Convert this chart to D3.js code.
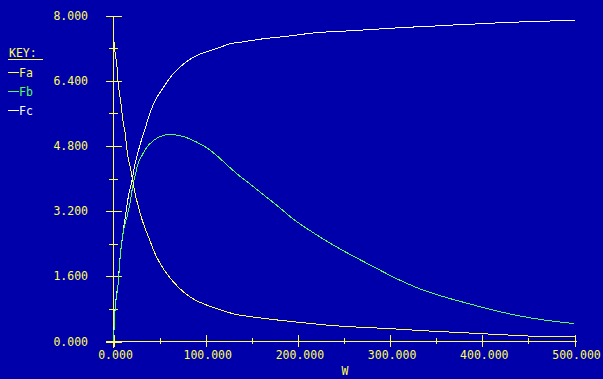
<!DOCTYPE html>
<html>
<head>
<meta charset="utf-8">
<script src="https://cdn.jsdelivr.net/npm/d3@7"></script>
<style>
  html, body { margin: 0; padding: 0; background: #0000aa; }
  svg { display: block; }
  text { font-family: "DejaVu Sans Mono", monospace; font-size: 11.5px; }
</style>
</head>
<body>
<svg id="chart" width="603" height="379"></svg>
<script>
// values
const wA = [0, 1.8, 3.7, 4.8, 6.5, 8.4, 10.2, 12.7, 15.2, 18.1, 20.6, 23.5, 27.1, 30.8, 34.4, 38.7, 45.2, 50.7, 57.9, 65.1, 74.2, 83.2, 94, 104.9, 115.7, 130, 151.8, 180.8, 206, 238.6, 267.6, 296.5, 340, 376, 401, 426.7, 455.5, 484.5, 500];
const fa = [7.5, 7.06, 6.77, 6.4, 6.08, 5.79, 5.42, 5.1, 4.6, 4.28, 3.99, 3.62, 3.3, 3.0, 2.77, 2.52, 2.15, 1.91, 1.66, 1.46, 1.25, 1.09, 0.96, 0.86, 0.78, 0.68, 0.6, 0.52, 0.46, 0.39, 0.35, 0.32, 0.26, 0.22, 0.19, 0.16, 0.13, 0.12, 0.12];

const wB = [0, 1.8, 3.7, 5.4, 7.3, 10.8, 14.5, 18.1, 21, 23.5, 26, 30.8, 36.2, 43.4, 50.7, 61.5, 70.5, 79.6, 90.5, 101.3, 112.1, 126.6, 137.4, 148.3, 162.7, 177.2, 195.2, 213.3, 231.4, 253, 274.8, 311, 332.6, 357.9, 383.3, 412, 437.5, 466.4, 500];
const fb = [0, 0.8, 1.18, 1.5, 2.1, 2.72, 3.05, 3.42, 3.83, 4.07, 4.32, 4.56, 4.77, 4.93, 5.03, 5.08, 5.06, 5.0, 4.89, 4.75, 4.56, 4.26, 4.05, 3.86, 3.6, 3.34, 3.0, 2.72, 2.46, 2.18, 1.92, 1.5, 1.29, 1.1, 0.94, 0.77, 0.64, 0.53, 0.44];

const wC = [0, 0.8, 1.8, 3.7, 5.4, 6.5, 8, 10.2, 12.7, 16.3, 20, 23.5, 27.1, 30.8, 34.4, 36.9, 43.4, 54.2, 63.3, 75.9, 90.5, 104.9, 115.7, 126.6, 136.3, 162.7, 188, 220.6, 253, 289, 318, 347, 379.6, 401, 426.7, 455.5, 484.5, 500];
const fc = [0, 0.52, 0.84, 1.21, 1.5, 1.92, 2.23, 2.65, 3.05, 3.58, 3.95, 4.37, 4.69, 4.98, 5.23, 5.42, 5.83, 6.24, 6.53, 6.81, 7.02, 7.14, 7.22, 7.31, 7.34, 7.43, 7.49, 7.58, 7.62, 7.67, 7.71, 7.74, 7.78, 7.8, 7.83, 7.85, 7.87, 7.87];

const xTicks = [0, 100, 200, 300, 400, 500];
const xMinor = [50, 150, 250, 350, 450];
const yTicks = [0, 1.6, 3.2, 4.8, 6.4, 8.0];
const yMinor = [0.8, 2.4, 4.0, 5.6, 7.2];
const keyNames = ["Fa", "Fb", "Fc"];

const YELLOW = "#ffff55", GREEN = "#55ff55", WHITE = "#ffffff";
const keyColors = [YELLOW, GREEN, WHITE];

const svg = d3.select("#chart");

const x = d3.scaleLinear().domain([0, 500]).range([113.5, 574.5]);
const y = d3.scaleLinear().domain([0, 8]).range([341.5, 15.5]);

const g = svg.append("g").attr("shape-rendering", "crispEdges");

// y axis
g.append("line")
    .attr("x1", x(0)).attr("x2", x(0))
    .attr("y1", y(8)).attr("y2", 347.5)
    .attr("stroke", YELLOW);

g.selectAll(".ymaj").data(yTicks).enter().append("line")
    .attr("x1", 106).attr("x2", 122)
    .attr("y1", d => Math.round(y(d)) + 0.5).attr("y2", d => Math.round(y(d)) + 0.5)
    .attr("stroke", YELLOW);
g.selectAll(".ymin").data(yMinor).enter().append("line")
    .attr("x1", 109).attr("x2", 118)
    .attr("y1", d => Math.round(y(d)) + 0.5).attr("y2", d => Math.round(y(d)) + 0.5)
    .attr("stroke", YELLOW);

svg.selectAll(".ylab").data(yTicks).enter().append("text")
    .attr("x", 88).attr("y", d => y(d) + 4)
    .attr("text-anchor", "end")
    .attr("fill", YELLOW)
    .text(d => d.toFixed(3));

// x axis
g.append("line")
    .attr("x1", 106).attr("x2", 577)
    .attr("y1", y(0)).attr("y2", y(0))
    .attr("stroke", YELLOW);

g.selectAll(".xmaj").data(xTicks).enter().append("line")
    .attr("x1", d => Math.round(x(d)) + 0.5).attr("x2", d => Math.round(x(d)) + 0.5)
    .attr("y1", 335).attr("y2", 347)
    .attr("stroke", YELLOW);
g.selectAll(".xmin").data(xMinor).enter().append("line")
    .attr("x1", d => Math.round(x(d)) + 0.5).attr("x2", d => Math.round(x(d)) + 0.5)
    .attr("y1", 338).attr("y2", 344)
    .attr("stroke", YELLOW);

svg.selectAll(".xlab").data(xTicks).enter().append("text")
    .attr("x", d => x(d) + 2).attr("y", 358.5)
    .attr("text-anchor", "middle")
    .attr("fill", YELLOW)
    .text(d => d.toFixed(3));

svg.append("text")
    .attr("x", 345).attr("y", 375)
    .attr("text-anchor", "middle")
    .attr("fill", YELLOW)
    .text("W");

// curves
const line = d3.line()
    .curve(d3.curveMonotoneX)
    .x(d => x(d[0]))
    .y(d => y(d[1]));

const series = [
    { w: wC, v: fc, color: WHITE },
    { w: wB, v: fb, color: GREEN },
    { w: wA, v: fa, color: YELLOW }
];

series.forEach(s => {
    svg.append("path")
        .datum(d3.zip(s.w, s.v))
        .attr("d", line)
        .attr("fill", "none")
        .attr("stroke", s.color)
        .attr("stroke-width", 1)
        .attr("shape-rendering", "crispEdges");
});

// key
svg.append("text")
    .attr("x", 9).attr("y", 57)
    .attr("fill", YELLOW)
    .text("KEY:");
g.append("line")
    .attr("x1", 8).attr("x2", 43)
    .attr("y1", 59.5).attr("y2", 59.5)
    .attr("stroke", YELLOW);

keyNames.forEach((k, i) => {
    const yy = 72.5 + i * 19;
    g.append("line")
        .attr("x1", 8).attr("x2", 19)
        .attr("y1", yy).attr("y2", yy)
        .attr("stroke", keyColors[i]);
    svg.append("text")
        .attr("x", 19).attr("y", yy + 4)
        .attr("fill", keyColors[i])
        .text(k);
});
</script>
</body>
</html>
